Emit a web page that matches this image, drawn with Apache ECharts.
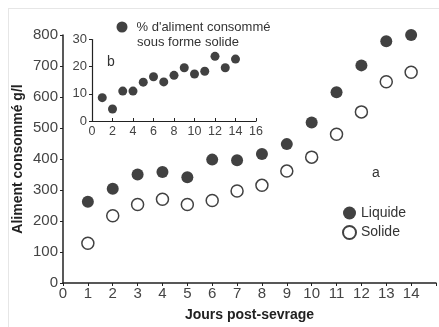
<!DOCTYPE html>
<html><head><meta charset="utf-8">
<script src="https://cdn.jsdelivr.net/npm/echarts@6/dist/echarts.min.js"></script>
<style>html,body{margin:0;padding:0;background:#fff}#c{width:439px;height:327px}</style>
</head><body><div id="c"></div>
<script>
const days = [1,2,3,4,5,6,7,8,9,10,11,12,13,14];
const liquide = [262, 304, 350, 358, 341, 398, 396, 416, 448, 518, 615, 702, 780, 800];
const solide = [128, 217, 253, 270, 253, 266, 297, 315, 361, 406, 480, 552, 649, 680];
const pctSolide = [8.6, 4.4, 11.0, 11.0, 14.3, 16.3, 14.4, 16.8, 19.6, 17.3, 18.3, 23.8, 19.6, 22.8];
const insetNameLines = ["% d'aliment consommé", "sous forme solide"];
const insetName = insetNameLines.join(' ');

const FONT = 'Liberation Sans';
const chart = echarts.init(document.getElementById('c'), null, {renderer:'canvas'});
const pair = (xs, ys) => xs.map((x,i)=>[x, ys[i]]);
chart.setOption({
  animation:false,
  backgroundColor:'#fff',
  textStyle:{fontFamily:FONT},
  grid:[
    {left:63, top:35, right:-5, bottom:40},
    {left:92, top:39.5, width:164, height:81.5}
  ],
  xAxis:[
    {gridIndex:0, type:'value', min:0, max:15, interval:1,
     name:'Jours post-sevrage', nameLocation:'middle', nameGap:25, nameMoveOverlap:false,
     nameTextStyle:{fontFamily:FONT, fontSize:14, fontWeight:'bold', color:'#222'},
     axisLine:{lineStyle:{color:'#222', width:1.5}},
     axisTick:{show:true, length:3, lineStyle:{color:'#222'}},
     axisLabel:{margin:3, fontSize:15, color:'#444', fontFamily:FONT,
       formatter:v=> v<=14 ? String(v) : ''},
     splitLine:{show:false}},
    {gridIndex:1, type:'value', min:0, max:16, interval:2,
     axisLine:{lineStyle:{color:'#222', width:1.2}},
     axisTick:{show:true, inside:true, length:3, lineStyle:{color:'#222'}},
     axisLabel:{margin:4, fontSize:12.5, color:'#444', fontFamily:FONT},
     splitLine:{show:false}}
  ],
  yAxis:[
    {gridIndex:0, type:'value', min:0, max:800, interval:100,
     name:'Aliment consommé g/l', nameLocation:'middle', nameGap:38, nameRotate:90, nameMoveOverlap:false,
     nameTextStyle:{fontFamily:FONT, fontSize:14, fontWeight:'bold', color:'#222'},
     axisLine:{show:true, lineStyle:{color:'#222', width:1.5}},
     axisTick:{show:true, length:3, lineStyle:{color:'#222'}},
     axisLabel:{margin:5, fontSize:15, color:'#444', fontFamily:FONT},
     splitLine:{show:false}},
    {gridIndex:1, type:'value', min:0, max:30, interval:10,
     axisLine:{show:true, lineStyle:{color:'#222', width:1.2}},
     axisTick:{show:true, length:3, lineStyle:{color:'#222'}},
     axisLabel:{margin:5, fontSize:13, color:'#444', fontFamily:FONT},
     splitLine:{show:false}}
  ],
  legend:[
    {data:['Liquide','Solide'], orient:'vertical', left:337, top:201, itemGap:5,
     itemWidth:13, itemHeight:13, icon:'circle',
     textStyle:{fontSize:14, color:'#333', fontFamily:FONT}},
    {data:[insetName], left:116.5, top:19, padding:0, itemWidth:11, itemHeight:11, icon:'circle',
     formatter:()=>insetNameLines[0],
     textStyle:{fontSize:13, color:'#333', fontFamily:FONT, lineHeight:16, padding:[0,0,0,4]}}
  ],
  series:[
    {name:'Liquide', type:'scatter', xAxisIndex:0, yAxisIndex:0, data:pair(days, liquide),
     symbol:'circle', symbolSize:12, itemStyle:{color:'#111'}},
    {name:'Solide', type:'scatter', xAxisIndex:0, yAxisIndex:0, data:pair(days, solide),
     symbol:'circle', symbolSize:12, itemStyle:{color:'#fff', borderColor:'#111', borderWidth:1.5}},
    {name:insetName, type:'scatter', xAxisIndex:1, yAxisIndex:1, data:pair(days, pctSolide),
     symbol:'circle', symbolSize:9, itemStyle:{color:'#111'}}
  ],
  graphic:[
    {type:'line', shape:{x1:8, y1:8.5, x2:439, y2:8.5}, style:{stroke:'#e6e6e6', lineWidth:1}, silent:true},
    {type:'line', shape:{x1:8.5, y1:8, x2:8.5, y2:327}, style:{stroke:'#e6e6e6', lineWidth:1}, silent:true},
    {type:'text', left:137, top:36, style:{text:insetNameLines[1], fontSize:13, fill:'#333', fontFamily:FONT}},
    {type:'text', left:107, top:55, style:{text:'b', fontSize:14, fill:'#333', fontFamily:FONT}},
    {type:'text', left:372, top:166, style:{text:'a', fontSize:14, fill:'#333', fontFamily:FONT}}
  ]
});
</script></body></html>
